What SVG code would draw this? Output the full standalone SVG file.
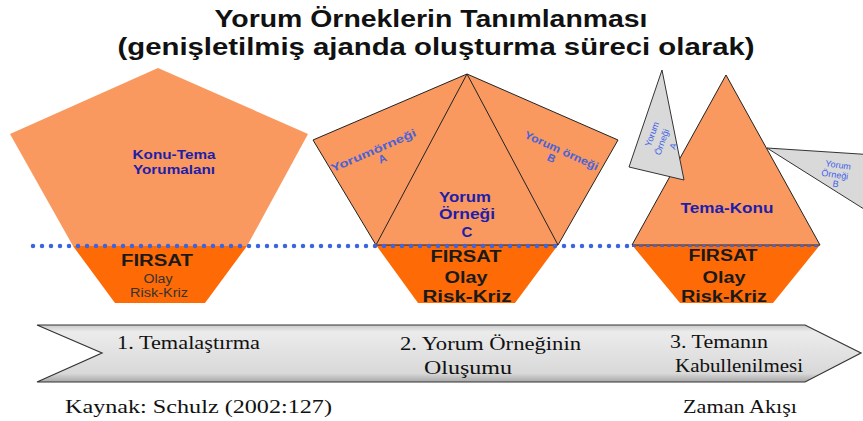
<svg xmlns="http://www.w3.org/2000/svg" width="863" height="421" viewBox="0 0 863 421">
<defs>
<linearGradient id="bandGrad" x1="0" y1="0" x2="0" y2="1">
<stop offset="0" stop-color="#c8c8c8"/>
<stop offset="0.12" stop-color="#ececec"/>
<stop offset="0.85" stop-color="#d8d8d8"/>
<stop offset="1" stop-color="#a8a8a8"/>
</linearGradient>
</defs>
<style>
.light{fill:#f9995f}
.dark{fill:#fe6a06}
.edge{stroke:#222;stroke-width:1;fill:none}
.grey{fill:#d9d9d9;stroke:#333;stroke-width:1}
.title{font-family:"Liberation Sans",Arial,sans-serif;font-weight:bold;font-size:23px;fill:#111;text-anchor:middle}
.blue{font-family:"Liberation Sans",Arial,sans-serif;font-weight:bold;fill:#1e1eaa;text-anchor:middle}
.mblue{font-family:"Liberation Sans",Arial,sans-serif;font-weight:bold;fill:#4a62d8;text-anchor:middle;font-size:11px}
.sblue{font-family:"Liberation Sans",Arial,sans-serif;fill:#3f63e8;text-anchor:middle;font-size:9px}
.firsat{font-family:"Liberation Sans",Arial,sans-serif;font-weight:bold;fill:#1a1a1a;text-anchor:middle;font-size:16px}
.small{font-family:"Liberation Sans",Arial,sans-serif;fill:#333;text-anchor:middle;font-size:12px}
.serif{font-family:"Liberation Serif","Times New Roman",serif;fill:#111;font-size:19px}
</style>

<g id="title">
<text class="title" x="431" y="27" textLength="433" lengthAdjust="spacingAndGlyphs">Yorum Örneklerin Tanımlanması</text>
<text class="title" x="436" y="55" textLength="637" lengthAdjust="spacingAndGlyphs">(genişletilmiş ajanda oluşturma süreci olarak)</text>
</g>

<g id="stage1">
<polygon class="light" points="158,68 308,134 247,246 73,246 10,134"/>
<polygon class="dark" points="73,246 247,246 205,303 115,303"/>
<text class="blue" x="174" y="159" font-size="12" textLength="83" lengthAdjust="spacingAndGlyphs">Konu-Tema</text>
<text class="blue" x="174" y="174" font-size="12" textLength="82" lengthAdjust="spacingAndGlyphs">Yorumalanı</text>
<text class="firsat" x="157" y="266" textLength="72" lengthAdjust="spacingAndGlyphs">FIRSAT</text>
<text class="small" x="158" y="283" textLength="29" lengthAdjust="spacingAndGlyphs">Olay</text>
<text class="small" x="159" y="297" textLength="58" lengthAdjust="spacingAndGlyphs">Risk-Kriz</text>
</g>

<g id="stage2">
<polygon class="light" points="467,74 618,140 558,245 376,245 313,140"/>
<polygon class="dark" points="376,245 558,245 515,303 418,303"/>
<polygon class="edge" points="467,74 618,140 558,245 376,245 313,140"/>
<line class="edge" x1="467" y1="74" x2="376" y2="245"/>
<line class="edge" x1="467" y1="74" x2="558" y2="245"/>
<g transform="translate(375,154) rotate(-23.5)">
<text class="mblue" x="0" y="0" textLength="92" lengthAdjust="spacingAndGlyphs">Yorumörneği</text>
<text class="mblue" x="5" y="11" font-size="9">A</text>
</g>
<g transform="translate(560,154) rotate(24.5)">
<text class="mblue" x="0" y="0" textLength="80" lengthAdjust="spacingAndGlyphs">Yorum örneği</text>
<text class="mblue" x="-6" y="11" font-size="9">B</text>
</g>
<text class="blue" x="465" y="202" font-size="15" textLength="52" lengthAdjust="spacingAndGlyphs">Yorum</text>
<text class="blue" x="467" y="219" font-size="15" textLength="56" lengthAdjust="spacingAndGlyphs">Örneği</text>
<text class="blue" x="467" y="237" font-size="15">C</text>
<text class="firsat" x="466" y="262" textLength="71" lengthAdjust="spacingAndGlyphs">FIRSAT</text>
<text class="firsat" x="466" y="283" textLength="43" lengthAdjust="spacingAndGlyphs">Olay</text>
<text class="firsat" x="467" y="302" textLength="89" lengthAdjust="spacingAndGlyphs">Risk-Kriz</text>
</g>

<g id="stage3">
<polygon class="light" points="726,75 820,245 632,245"/>
<polygon class="dark" points="632,245 820,245 773,303 680,303"/>
<polygon class="edge" points="726,75 820,245 632,245"/>
<text class="blue" x="727" y="213" font-size="14" textLength="93" lengthAdjust="spacingAndGlyphs">Tema-Konu</text>
<text class="firsat" x="723" y="261" textLength="69" lengthAdjust="spacingAndGlyphs">FIRSAT</text>
<text class="firsat" x="724" y="283" textLength="43" lengthAdjust="spacingAndGlyphs">Olay</text>
<text class="firsat" x="724" y="302" textLength="86" lengthAdjust="spacingAndGlyphs">Risk-Kriz</text>
</g>

<g id="exampleA">
<polygon class="grey" points="662,70 684,180 629,167"/>
<g transform="translate(662,142) rotate(-70)">
<text class="sblue" x="4" y="-9">Yorum</text>
<text class="sblue" x="0" y="3">Örneği</text>
<text class="sblue" x="0" y="15">A</text>
</g>
</g>

<g id="exampleB">
<polygon class="grey" points="767,148 875,155 875,216"/>
<g transform="translate(837,174) rotate(8)">
<text class="sblue" x="0" y="-6">Yorum</text>
<text class="sblue" x="-2" y="4">Örneği</text>
<text class="sblue" x="0" y="13">B</text>
</g>
</g>

<g id="divider">
<line x1="33" y1="246" x2="628" y2="246" stroke="#3b64e0" stroke-width="4.5" stroke-linecap="round" stroke-dasharray="0 9"/>
<line x1="632" y1="246" x2="820" y2="246" stroke="#3b64e0" stroke-width="2" stroke-dasharray="4 3"/>
</g>

<g id="timeline">
<polygon points="37,325 805,325 861,353 805,382 37,382 102,353" fill="url(#bandGrad)" stroke="#333" stroke-width="1.2"/>
<text class="serif" x="117" y="349" textLength="143" lengthAdjust="spacingAndGlyphs">1. Temalaştırma</text>
<text class="serif" x="400" y="350" textLength="181" lengthAdjust="spacingAndGlyphs">2. Yorum Örneğinin</text>
<text class="serif" x="424" y="374" textLength="88" lengthAdjust="spacingAndGlyphs">Oluşumu</text>
<text class="serif" x="670" y="348" textLength="98" lengthAdjust="spacingAndGlyphs">3. Temanın</text>
<text class="serif" x="675" y="372" textLength="128" lengthAdjust="spacingAndGlyphs">Kabullenilmesi</text>
</g>

<g id="footer">
<text class="serif" x="65" y="413" textLength="267" lengthAdjust="spacingAndGlyphs">Kaynak: Schulz (2002:127)</text>
<text class="serif" x="683" y="413" textLength="114" lengthAdjust="spacingAndGlyphs">Zaman Akışı</text>
</g>
</svg>
